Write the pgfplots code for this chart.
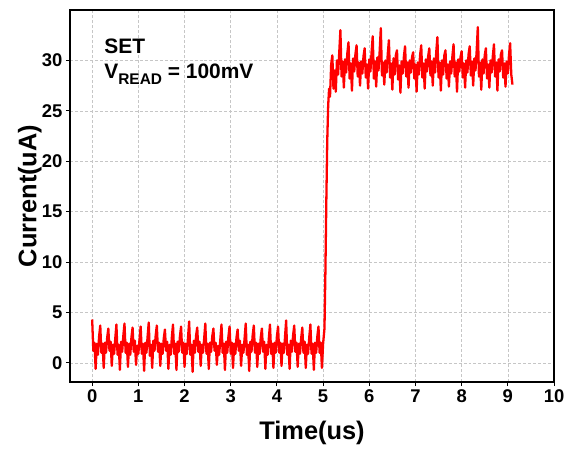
\documentclass[border=0pt]{standalone}
\usepackage{pgfplots}
\pgfplotsset{compat=1.18}
\usepackage{fontspec}
\setmainfont{Liberation Sans}
\begin{document}
\begin{tikzpicture}
\begin{axis}[
  scale only axis,
  width=484bp, height=372bp,
  xmin=-0.48, xmax=10, ymin=-1.9, ymax=35,
  xtick={0,1,...,10}, ytick={0,5,...,30},
  grid=major,
  major grid style={densely dashed, gray!45, line width=0.5pt},
  axis line style={line width=2.8pt},
  tick align=outside, major tick length=4bp,
  tick style={line width=1pt, black},
  xtick pos=bottom, ytick pos=left,
  /pgf/number format/assume math mode=true,
  tick label style={font=\fontsize{18.5}{21}\selectfont\bfseries},
  xlabel={Time(us)}, ylabel={Current(uA)},
  label style={font=\fontsize{25.5}{30}\selectfont\bfseries},
  xlabel style={at={(axis description cs:0.5,-0.137)}, anchor=center},
  ylabel style={at={(axis description cs:-0.083,0.5)}, anchor=center},
]
\addplot[red, line width=2.3pt, line join=round] coordinates {
(0,4.3)(0.025,1.2)(0.05,2.0)(0.075,-0.6)(0.1,1.9)(0.125,0.8)(0.15,2.6)
(0.175,3.7)(0.2,1.0)(0.225,1.9)(0.25,-0.5)(0.275,2.0)(0.3,1.0)(0.325,2.5)
(0.35,3.4)(0.375,1.2)(0.4,2.1)(0.425,-0.3)(0.45,1.8)(0.475,0.9)(0.5,2.4)
(0.525,3.8)(0.55,0.8)(0.575,1.8)(0.6,-0.7)(0.625,2.1)(0.65,1.1)(0.675,2.7)
(0.7,3.9)(0.725,1.0)(0.75,2.0)(0.775,-0.4)(0.8,1.9)(0.825,0.8)(0.85,2.5)
(0.875,3.5)(0.9,1.1)(0.925,2.2)(0.95,-0.2)(0.975,1.7)(1.0,0.9)(1.025,2.3)
(1.05,3.6)(1.075,0.9)(1.1,1.9)(1.125,-0.8)(1.15,2.0)(1.175,1.0)(1.2,2.6)
(1.225,4.0)(1.25,0.7)(1.275,1.8)(1.3,-0.5)(1.325,2.2)(1.35,1.2)(1.375,2.7)
(1.4,3.7)(1.425,1.1)(1.45,2.0)(1.475,-0.3)(1.5,1.9)(1.525,0.9)(1.55,2.4)
(1.575,3.3)(1.6,1.2)(1.625,2.1)(1.65,-0.6)(1.675,1.8)(1.7,0.8)(1.725,2.5)
(1.75,3.8)(1.775,0.9)(1.8,1.9)(1.825,-0.7)(1.85,2.1)(1.875,1.1)(1.9,2.6)
(1.925,3.6)(1.95,1.0)(1.975,2.0)(2.0,-0.4)(2.025,1.9)(2.05,0.9)(2.075,2.5)
(2.1,4.1)(2.125,0.8)(2.15,1.8)(2.175,-0.9)(2.2,2.2)(2.225,1.0)(2.25,2.7)
(2.275,3.5)(2.3,1.1)(2.325,2.1)(2.35,-0.3)(2.375,1.8)(2.4,1.0)(2.425,2.4)
(2.45,3.9)(2.475,0.9)(2.5,1.9)(2.525,-0.6)(2.55,2.0)(2.575,1.1)(2.6,2.6)
(2.625,3.4)(2.65,1.2)(2.675,2.0)(2.7,-0.2)(2.725,1.7)(2.75,0.8)(2.775,2.3)
(2.8,3.8)(2.825,1.0)(2.85,1.9)(2.875,-0.7)(2.9,2.1)(2.925,1.0)(2.95,2.6)
(2.975,3.6)(3.0,0.9)(3.025,2.0)(3.05,-0.5)(3.075,1.9)(3.1,0.9)(3.125,2.5)
(3.15,3.3)(3.175,1.2)(3.2,2.2)(3.225,-0.3)(3.25,1.8)(3.275,1.0)(3.3,2.4)
(3.325,3.9)(3.35,0.8)(3.375,1.8)(3.4,-0.8)(3.425,2.1)(3.45,1.1)(3.475,2.7)
(3.5,3.7)(3.525,1.0)(3.55,2.0)(3.575,-0.4)(3.6,1.9)(3.625,0.9)(3.65,2.5)
(3.675,3.4)(3.7,1.1)(3.725,2.1)(3.75,-0.6)(3.775,1.8)(3.8,0.8)(3.825,2.4)
(3.85,3.8)(3.875,0.9)(3.9,1.9)(3.925,-0.5)(3.95,2.0)(3.975,1.0)(4.0,2.6)
(4.025,3.6)(4.05,1.0)(4.075,2.0)(4.1,-0.3)(4.125,1.9)(4.15,1.0)(4.175,2.5)
(4.2,4.2)(4.225,0.8)(4.25,1.8)(4.275,-0.6)(4.3,2.2)(4.325,1.1)(4.35,2.7)
(4.375,3.7)(4.4,1.1)(4.425,2.0)(4.45,-0.4)(4.475,1.9)(4.5,0.9)(4.525,2.4)
(4.55,3.5)(4.575,1.0)(4.6,2.1)(4.625,-0.5)(4.65,1.8)(4.675,0.9)(4.7,2.5)
(4.725,3.8)(4.75,0.9)(4.775,1.9)(4.8,-0.7)(4.825,2.0)(4.85,1.0)(4.875,2.6)
(4.9,3.6)(4.925,1.0)(4.95,2.0)(4.975,-0.5)(5.0,1.9)(5.03,3.4)
(5.05,9.0)(5.07,16.0)(5.09,22.0)(5.11,25.5)(5.13,27.2)(5.15,26.4)(5.175,29.6)
(5.2,30.5)(5.225,27.2)(5.25,29.0)(5.275,26.9)(5.3,30.0)(5.325,28.6)(5.35,30.8)
(5.375,33.0)(5.4,28.4)(5.425,29.9)(5.45,27.3)(5.475,30.1)(5.5,28.8)(5.525,30.7)
(5.55,31.8)(5.575,28.2)(5.6,29.7)(5.625,27.0)(5.65,30.2)(5.675,28.9)(5.7,30.6)
(5.725,31.5)(5.75,28.4)(5.775,29.8)(5.8,27.5)(5.825,29.9)(5.85,28.7)(5.875,30.4)
(5.9,31.2)(5.925,28.3)(5.95,29.6)(5.975,27.2)(6.0,30.1)(6.025,28.9)(6.05,30.8)
(6.075,32.4)(6.1,28.2)(6.125,29.9)(6.15,27.4)(6.175,30.3)(6.2,29.0)(6.225,30.9)
(6.25,33.2)(6.275,28.5)(6.3,29.8)(6.325,27.6)(6.35,30.0)(6.375,28.8)(6.4,30.6)
(6.425,32.0)(6.45,28.3)(6.475,29.7)(6.5,27.1)(6.525,30.2)(6.55,28.6)(6.575,30.5)
(6.6,31.0)(6.625,28.1)(6.65,29.5)(6.675,26.8)(6.7,29.9)(6.725,28.7)(6.75,30.4)
(6.775,31.4)(6.8,28.4)(6.825,29.8)(6.85,27.3)(6.875,30.0)(6.9,28.8)(6.925,30.3)
(6.95,30.8)(6.975,28.2)(7.0,29.6)(7.025,26.9)(7.05,29.8)(7.075,28.6)(7.1,30.5)
(7.125,31.5)(7.15,28.3)(7.175,29.7)(7.2,27.2)(7.225,30.1)(7.25,28.9)(7.275,30.4)
(7.3,31.2)(7.325,28.5)(7.35,29.9)(7.375,27.5)(7.4,30.2)(7.425,28.8)(7.45,30.8)
(7.475,32.3)(7.5,28.3)(7.525,29.8)(7.55,27.0)(7.575,30.0)(7.6,28.6)(7.625,30.5)
(7.65,31.0)(7.675,28.2)(7.7,29.6)(7.725,27.4)(7.75,29.9)(7.775,28.7)(7.8,30.4)
(7.825,31.6)(7.85,28.4)(7.875,29.8)(7.9,26.9)(7.925,30.1)(7.95,28.9)(7.975,30.3)
(8.0,30.9)(8.025,28.3)(8.05,29.7)(8.075,27.3)(8.1,30.0)(8.125,28.8)(8.15,30.6)
(8.175,31.4)(8.2,28.5)(8.225,29.9)(8.25,27.5)(8.275,30.2)(8.3,29.0)(8.325,30.9)
(8.35,33.3)(8.375,28.4)(8.4,29.8)(8.425,27.1)(8.45,30.1)(8.475,28.7)(8.5,30.5)
(8.525,31.2)(8.55,28.2)(8.575,29.6)(8.6,27.3)(8.625,30.0)(8.65,28.8)(8.675,30.4)
(8.7,31.6)(8.725,28.4)(8.75,29.8)(8.775,27.0)(8.8,30.1)(8.825,28.9)(8.85,30.6)
(8.875,31.0)(8.9,28.3)(8.925,29.7)(8.95,27.4)(8.975,29.9)(9.0,28.7)(9.025,30.5)
(9.05,31.7)(9.075,28.6)(9.1,27.6)
};
\node[anchor=west, inner sep=0pt, font=\fontsize{21}{24}\selectfont\bfseries] at (axis cs:0.26,31.4) {SET};
\node[anchor=west, inner sep=0pt, font=\fontsize{21}{24}\selectfont\bfseries] at (axis cs:0.26,28.65) {V\raisebox{-0.3em}{\fontsize{15.5}{17}\selectfont READ} = 100mV};
\end{axis}
\path ([xshift=-70bp,yshift=-69bp]current axis.south west) rectangle ([xshift=17bp,yshift=10bp]current axis.north east);
\end{tikzpicture}
\end{document}
